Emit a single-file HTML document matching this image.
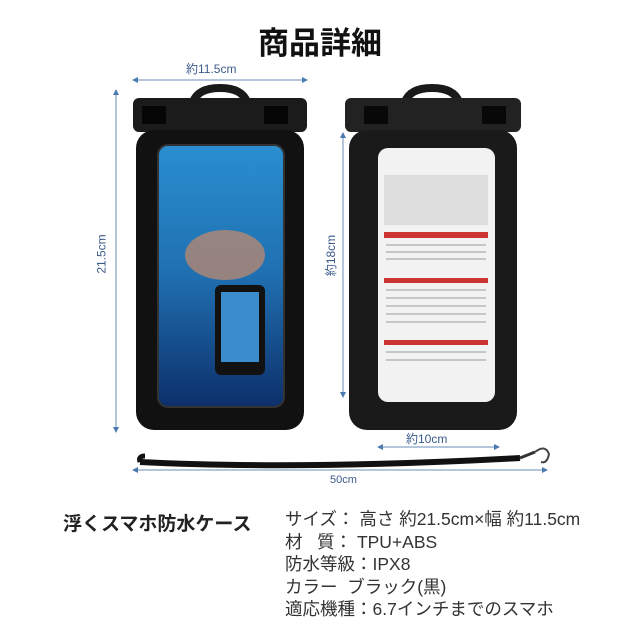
<!DOCTYPE html>
<html><head><meta charset="utf-8"><style>
body{margin:0;width:640px;height:640px;background:#fff;position:relative;overflow:hidden;font-family:"Liberation Sans","Noto Sans CJK JP",sans-serif}
.t{position:absolute;white-space:nowrap}
</style></head><body>
<svg width="640" height="640" style="position:absolute;left:0;top:0">
<defs>
<linearGradient id="sea" x1="0" y1="0" x2="0" y2="1"><stop offset="0" stop-color="#2a8fd0"/><stop offset="0.5" stop-color="#1f6fb0"/><stop offset="1" stop-color="#0d2f6a"/></linearGradient>
<marker id="a" markerWidth="6" markerHeight="6" refX="3" refY="3" orient="auto-start-reverse"><path d="M0,0 L6,3 L0,6z" fill="#4a7ab0"/></marker>
</defs>
<g stroke="#6b8cb8" stroke-width="1" marker-start="url(#a)" marker-end="url(#a)">
<line x1="135" y1="80" x2="305" y2="80"/>
<line x1="116" y1="92" x2="116" y2="430"/>
<line x1="343" y1="135" x2="343" y2="395"/>
<line x1="380" y1="447" x2="497" y2="447"/>
<line x1="135" y1="470" x2="545" y2="470"/>
</g>
<path d="M193,102 Q198,88 220,88 Q242,88 247,102" fill="none" stroke="#1a1a1a" stroke-width="8"/>
<rect x="133" y="98" width="174" height="34" rx="6" fill="#1b1b1b"/>
<rect x="142" y="106" width="24" height="18" fill="#050505"/><rect x="264" y="106" width="24" height="18" fill="#050505"/>
<rect x="136" y="130" width="168" height="300" rx="18" fill="#111"/>
<rect x="158" y="145" width="126" height="262" rx="10" fill="url(#sea)"/>
<rect x="158" y="145" width="126" height="262" rx="10" fill="none" stroke="#333" stroke-width="2"/>
<ellipse cx="225" cy="255" rx="40" ry="25" fill="#c98a6a" opacity="0.7"/>
<rect x="215" y="285" width="50" height="90" rx="6" fill="#111"/>
<rect x="221" y="292" width="38" height="70" fill="#3a8ccc"/>
<path d="M405,102 Q410,88 432,88 Q454,88 459,102" fill="none" stroke="#1a1a1a" stroke-width="8"/>
<rect x="345" y="98" width="176" height="34" rx="6" fill="#222"/>
<rect x="364" y="106" width="24" height="18" fill="#080808"/><rect x="482" y="106" width="24" height="18" fill="#080808"/>
<rect x="349" y="130" width="168" height="300" rx="18" fill="#1a1a1a"/>
<rect x="378" y="148" width="117" height="254" rx="10" fill="#f2f2f2"/>
<rect x="384" y="175" width="104" height="50" fill="#ddd"/>
<rect x="384" y="232" width="104" height="6" fill="#c33"/>
<rect x="384" y="278" width="104" height="5" fill="#c33"/>
<rect x="384" y="340" width="104" height="5" fill="#c33"/>
<g stroke="#999" stroke-width="1"><line x1="386" y1="245" x2="486" y2="245"/><line x1="386" y1="252" x2="486" y2="252"/><line x1="386" y1="259" x2="486" y2="259"/><line x1="386" y1="290" x2="486" y2="290"/><line x1="386" y1="298" x2="486" y2="298"/><line x1="386" y1="306" x2="486" y2="306"/><line x1="386" y1="314" x2="486" y2="314"/><line x1="386" y1="322" x2="486" y2="322"/><line x1="386" y1="352" x2="486" y2="352"/><line x1="386" y1="360" x2="486" y2="360"/></g>
<path d="M140,462 Q300,470 520,458" fill="none" stroke="#111" stroke-width="6"/>
<path d="M140,462 Q138,456 145,456" fill="none" stroke="#111" stroke-width="5"/>
<path d="M520,458 L535,452" stroke="#333" stroke-width="3"/>
<path d="M535,452 q10,-8 14,2 q-2,10 -8,8" fill="none" stroke="#444" stroke-width="2"/>
</svg>
<div class="t" style="left:0;width:640px;text-align:center;top:18px;font-size:31px;font-weight:bold;color:#111">商品詳細</div>
<div class="t" style="left:186px;top:60px;font-size:12px;color:#3a5a8a">約11.5cm</div>
<div class="t" style="left:82px;top:247px;font-size:12px;color:#3a5a8a;transform:rotate(-90deg)">21.5cm</div>
<div class="t" style="left:310px;top:247px;font-size:12px;color:#3a5a8a;transform:rotate(-90deg)">約18cm</div>
<div class="t" style="left:406px;top:430px;font-size:12px;color:#3a5a8a">約10cm</div>
<div class="t" style="left:330px;top:474px;font-size:11px;color:#3a5a8a">50cm</div>
<div class="t" style="left:63px;top:509px;font-size:19px;font-weight:bold;color:#222">浮くスマホ防水ケース</div>
<div class="t" style="left:285px;top:508px;font-size:17.5px;line-height:22.5px;color:#333">サイズ：&nbsp;高さ 約21.5cm×幅 約11.5cm<br>材&nbsp;&nbsp;&nbsp;質：&nbsp;TPU+ABS<br>防水等級：IPX8<br>カラー&nbsp;&nbsp;ブラック(黒)<br>適応機種：6.7インチまでのスマホ</div>
</body></html>
